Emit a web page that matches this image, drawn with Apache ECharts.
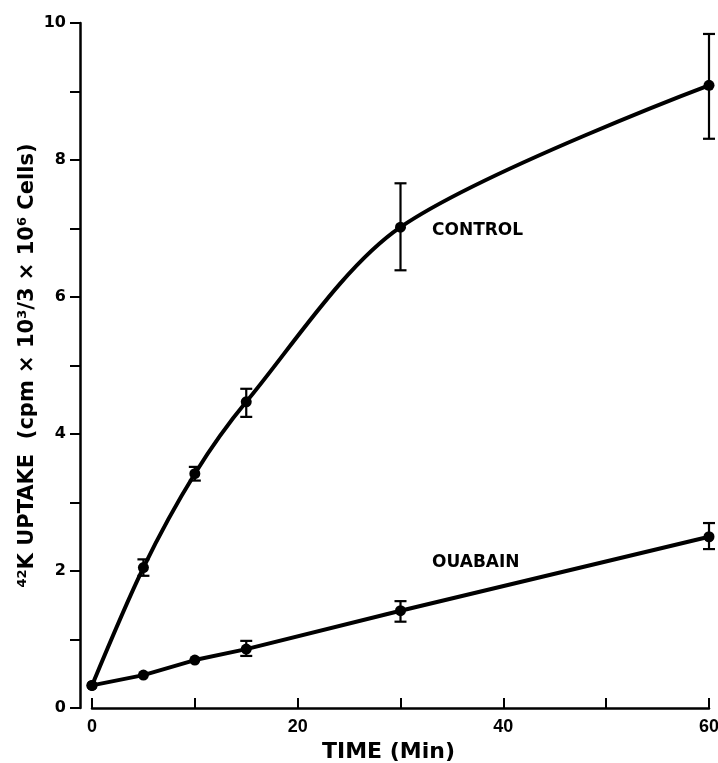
<!DOCTYPE html>
<html>
<head>
<meta charset="utf-8">
<script src="https://cdn.jsdelivr.net/npm/echarts@6/dist/echarts.min.js"></script>
<style>html,body{margin:0;padding:0;background:#fff}#c{width:718px;height:763px}</style>
</head>
<body>
<div id="c"></div>
<script>
const timeMin = [0, 5, 10, 15, 30, 60];
const controlMean = [0.33, 2.05, 3.42, 4.47, 7.02, 9.09];
const controlLow  = [null, 1.93, 3.32, 4.25, 6.39, 8.31];
const controlHigh = [null, 2.17, 3.52, 4.66, 7.66, 9.84];
const ouabainMean = [0.33, 0.48, 0.70, 0.86, 1.42, 2.50];
const ouabainLow  = [null, null, null, 0.76, 1.26, 2.32];
const ouabainHigh = [null, null, null, 0.98, 1.56, 2.70];
const xTickLabels = ['0', '20', '40', '60'];
const yTickLabels = ['0', '2', '4', '6', '8', '10'];
const seriesNames = ['CONTROL', 'OUABAIN'];

const FONT = 'DejaVu Sans';

function pts(mean, labelText, offset) {
  return timeMin.map((t, i) => {
    const d = { value: [t, mean[i]] };
    if (i === 4) {
      d.label = {
        show: true, position: 'right', distance: 26, offset: offset,
        formatter: labelText, color: '#000', fontFamily: FONT,
        fontWeight: 'bold', fontSize: 17
      };
    }
    return d;
  });
}
function errs(low, high) {
  const out = [];
  timeMin.forEach((t, i) => { if (low[i] != null) out.push([t, low[i], high[i]]); });
  return out;
}
function errRender(params, api) {
  const x = api.value(0), lo = api.value(1), hi = api.value(2);
  const a = api.coord([x, lo]), b = api.coord([x, hi]);
  const w = 6;
  const st = { stroke: '#000', lineWidth: 2.2 };
  return { type: 'group', children: [
    { type: 'line', shape: { x1: a[0], y1: a[1], x2: b[0], y2: b[1] }, style: st },
    { type: 'line', shape: { x1: a[0] - w, y1: a[1], x2: a[0] + w, y2: a[1] }, style: st },
    { type: 'line', shape: { x1: b[0] - w, y1: b[1], x2: b[0] + w, y2: b[1] }, style: st }
  ]};
}

const chart = echarts.init(document.getElementById('c'));
chart.setOption({
  animation: false,
  grid: { left: 92, right: 9, top: 23, bottom: 55, outerBoundsMode: 'none', containLabel: false },
  xAxis: {
    type: 'value', min: 0, max: 60, interval: 10,
    name: 'TIME (Min)', nameLocation: 'middle', nameGap: 32,
    nameTextStyle: { fontFamily: FONT, fontWeight: 'bold', fontSize: 22, color: '#000', padding: [0, 24, 0, 0] },
    axisLine: { onZero: false, lineStyle: { color: '#000', width: 2.5 } },
    axisTick: { inside: true, length: 10, lineStyle: { color: '#000', width: 2 } },
    axisLabel: {
      margin: 10, color: '#000', fontFamily: 'Liberation Sans', fontWeight: 'bold', fontSize: 18,
      formatter: v => xTickLabels.includes(String(v)) ? String(v) : ''
    },
    splitLine: { show: false }
  },
  yAxis: {
    type: 'value', min: 0, max: 10, interval: 1, offset: 12,
    name: '{sup|42}K UPTAKE  (cpm × 10{sup|3}/3 × 10{sup|6} Cells)',
    nameLocation: 'middle', nameGap: 41, nameRotate: 90, nameMoveOverlap: false,
    nameTextStyle: {
      fontFamily: FONT, fontWeight: 'bold', fontSize: 21, color: '#000',
      rich: { sup: { fontFamily: FONT, fontWeight: 'bold', fontSize: 13, color: '#000', padding: [0, 0, 10, 0] } }
    },
    axisLine: { onZero: false, lineStyle: { color: '#000', width: 2.5 } },
    axisTick: { inside: false, length: 10, lineStyle: { color: '#000', width: 2 } },
    axisLabel: {
      margin: 14, color: '#000', fontFamily: FONT, fontWeight: 'bold', fontSize: 16,
      formatter: v => yTickLabels.includes(String(v)) ? String(v) : ''
    },
    splitLine: { show: false }
  },
  series: [
    {
      name: seriesNames[0], type: 'line', data: pts(controlMean, seriesNames[0], [0, 3]),
      smooth: 0.3, symbol: 'circle', symbolSize: 11,
      itemStyle: { color: '#000' }, lineStyle: { color: '#000', width: 4 }, z: 3
    },
    {
      name: seriesNames[1], type: 'line', data: pts(ouabainMean, seriesNames[1], [0, -48]),
      smooth: false, symbol: 'circle', symbolSize: 11,
      itemStyle: { color: '#000' }, lineStyle: { color: '#000', width: 4 }, z: 3
    },
    { type: 'custom', renderItem: errRender, data: errs(controlLow, controlHigh), z: 4 },
    { type: 'custom', renderItem: errRender, data: errs(ouabainLow, ouabainHigh), z: 4 }
  ]
});
</script>
</body>
</html>
